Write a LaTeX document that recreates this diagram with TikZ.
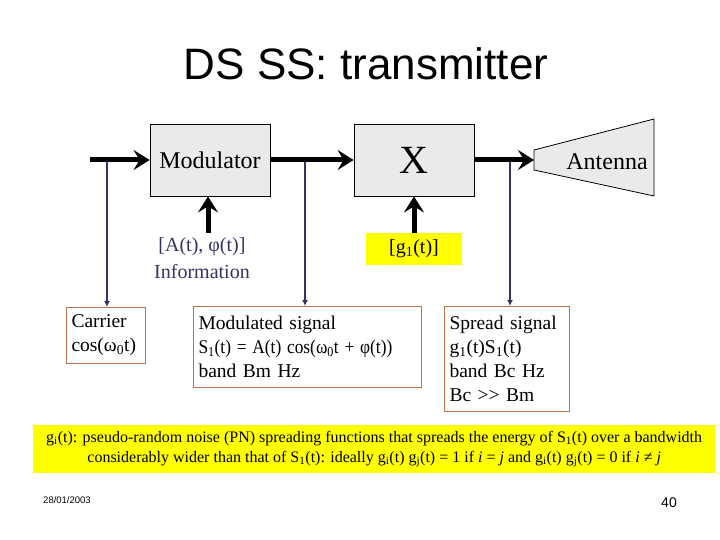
\documentclass[tikz,border=0pt]{standalone}
\usepackage{fontspec}
\usepackage{graphicx}
\setmainfont{Liberation Serif}
\newfontfamily\arialf{Liberation Sans}
\usetikzlibrary{arrows.meta}
\definecolor{boxgray}{HTML}{EAEAEA}
\definecolor{navyc}{HTML}{333366}
\definecolor{bordc}{HTML}{C0704A}
\definecolor{hiyel}{HTML}{FFFF00}
\begin{document}
\begin{tikzpicture}[x=1pt,y=-1pt,
  blockbox/.style={draw=black, line width=0.8pt, fill=boxgray, minimum width=120pt, minimum height=72pt, inner sep=0pt},
  bigarrow/.style={line width=5pt, -{Stealth[length=16pt,width=20pt,inset=6pt]}},
  tap/.style={draw=navyc, line width=1.8pt, -{Latex[length=6pt,width=6pt]}},
  descbox/.style={draw=bordc, line width=1pt, anchor=north west, align=left, inner xsep=5pt, inner ysep=3pt, font=\fontsize{19.5}{24}\selectfont},
  yelbox/.style={fill=hiyel, inner sep=0pt}]
\useasboundingbox[fill=white] (0,0) rectangle (720,540);

% title
\node[font=\arialf\fontsize{44}{50}\selectfont, anchor=base] (title) at (366,80) {DS SS: transmitter};

% blocks
\node[blockbox, font=\fontsize{24}{28}\selectfont] (mod) at (210,160) {Modulator};
\node[blockbox, font=\fontsize{40}{44}\selectfont] (mult) at (414,160) {X};
\draw[line width=0.8pt, fill=boxgray] (534,150) -- (654,119) -- (654,196) -- (534,170) -- cycle;
\coordinate (antL) at (534,160);
\node[font=\fontsize{24}{28}\selectfont] (anttext) at (607,162) {Antenna};

% description boxes
\node[descbox, text width=69pt, minimum height=56pt] (carrier) at (66,307) {Carrier\\cos(ω\textsubscript{0}t)};
\node[descbox, text width=218pt, minimum height=81pt] (modsig) at (193,306) {Modulated signal\\\scalebox{0.89}[1]{S\textsubscript{1}(t) = A(t) cos(ω\textsubscript{0}t + φ(t))}\\band Bm Hz};
\node[descbox, text width=115pt, minimum height=105pt] (spread) at (444,306) {Spread signal\\g\textsubscript{1}(t)S\textsubscript{1}(t)\\band Bc Hz\\Bc {>}{>} Bm};

% taps
\coordinate (t1) at (107,160);
\coordinate (t2) at (305,160);
\coordinate (t3) at (510,160);
\draw[tap] (t1) -- (t1 |- carrier.north);
\draw[tap] (t2) -- (t2 |- modsig.north);
\draw[tap] (t3) -- (t3 |- spread.north);

% main chain
\coordinate (in) at (90,160);
\draw[bigarrow] (in) -- (mod.west);
\draw[bigarrow] (mod.east) -- (mult.west);
\draw[bigarrow] (mult.east) -- (antL);

% inputs from below
\node[text=navyc, align=center, font=\fontsize{20}{27}\selectfont] (info) at (202,258) {[A(t), φ(t)]\\Information};
\coordinate (infotop) at (208,233);
\draw[bigarrow] (infotop) -- (infotop |- mod.south);
\node[yelbox, minimum width=96pt, minimum height=32pt, font=\fontsize{20}{24}\selectfont] (g1) at (414,249) {[g\textsubscript{1}(t)]};
\draw[bigarrow] (g1.north) -- (mult.south);

% note
\node[yelbox, anchor=north west, minimum width=682pt, minimum height=48pt, align=center, font=\fontsize{16}{20}\selectfont] (note) at (33,425)
 {g\textsubscript{i}(t): pseudo-random noise (PN) spreading functions that spreads the energy of S\textsubscript{1}(t) over a bandwidth\\
  considerably wider than that of S\textsubscript{1}(t): ideally g\textsubscript{i}(t) g\textsubscript{j}(t) = 1 if \textit{i} = \textit{j} and g\textsubscript{i}(t) g\textsubscript{j}(t) = 0 if \textit{i} ≠ \textit{j}};

% footer
\node[font=\arialf\fontsize{9.5}{11}\selectfont] (date) at (67,500) {28/01/2003};
\node[font=\arialf\fontsize{14}{16}\selectfont] (page) at (669,503) {40};
\end{tikzpicture}
\end{document}
